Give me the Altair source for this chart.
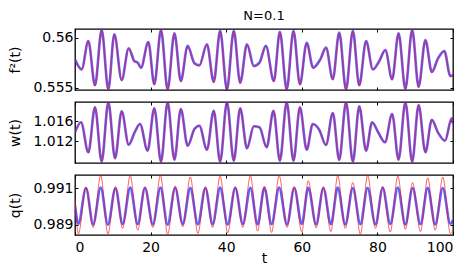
import altair as alt
import pandas as pd

# ---------------- data ----------------
F_T = [0, 1.76, 3.53, 5.29, 7.05, 8.82, 10.4, 12.35, 14.2, 15.7, 16.6, 17.46, 19.4, 20.98, 22.75,
       24.5, 26.3, 28.0, 29.8, 31.6, 32.9, 34.9, 36.7, 38.4, 40.2, 42.0, 43.7, 45.5, 47.3, 48.8,
       50.5, 52.6, 54.2, 56.0, 57.8, 59.5, 61.3, 63.0, 64.9, 66.4, 68.2, 69.9, 71.7, 73.5, 75.2,
       77.0, 78.8, 80.5, 82.1, 83.9, 85.6, 87.4, 89.2, 90.9, 92.7, 94.4, 96.0, 97.7, 99.3, 100]
F_BLUE = [0.55785, 0.55686, 0.55967, 0.55527, 0.56077, 0.55487, 0.56034, 0.55580, 0.55895, 0.55768,
          0.55752, 0.55702, 0.55957, 0.55537, 0.56077, 0.55487, 0.56044, 0.55570, 0.55918, 0.55746,
          0.55726, 0.55934, 0.55560, 0.56067, 0.55487, 0.56067, 0.55553, 0.55934, 0.55719, 0.55752,
          0.55918, 0.55570, 0.56057, 0.55487, 0.56067, 0.55537, 0.55950, 0.55702, 0.55785, 0.55901,
          0.55587, 0.56050, 0.55487, 0.56067, 0.55527, 0.55967, 0.55686, 0.55768, 0.55878, 0.55587,
          0.56044, 0.55493, 0.56077, 0.55513, 0.55977, 0.55659, 0.55791, 0.55868, 0.55619, 0.55629]
F_RED = [0.55780, 0.55678, 0.55963, 0.55520, 0.56073, 0.55480, 0.56030, 0.55572, 0.55890, 0.55760,
         0.55744, 0.55694, 0.55952, 0.55530, 0.56072, 0.55480, 0.56040, 0.55562, 0.55913, 0.55738,
         0.55718, 0.55930, 0.55552, 0.56063, 0.55480, 0.56063, 0.55545, 0.55930, 0.55711, 0.55744,
         0.55914, 0.55562, 0.56053, 0.55480, 0.56063, 0.55529, 0.55945, 0.55694, 0.55777, 0.55896,
         0.55579, 0.56046, 0.55480, 0.56063, 0.55520, 0.55962, 0.55678, 0.55760, 0.55872, 0.55579,
         0.56040, 0.55486, 0.56073, 0.55506, 0.55972, 0.55651, 0.55783, 0.55862, 0.55611, 0.55621]

W_T = [0, 1.59, 3.53, 5.29, 7.05, 8.82, 10.6, 12.35, 14.2, 15.9, 17.2, 19.2, 20.98, 22.75, 24.5,
       26.3, 28.0, 29.8, 31.6, 32.9, 34.9, 36.7, 38.4, 40.2, 42.0, 43.7, 45.5, 47.3, 48.8, 50.7,
       52.5, 54.2, 56.0, 57.8, 59.5, 61.3, 62.9, 64.6, 66.4, 68.2, 69.9, 71.7, 73.5, 75.2, 77.0,
       78.6, 80.2, 82.0, 83.9, 85.6, 87.4, 89.2, 90.9, 92.7, 94.4, 96.0, 97.9, 99.65, 100]
W_BLUE = [1.01378, 1.01578, 1.00978, 1.01878, 1.0079, 1.01978, 1.00858, 1.01798, 1.0113, 1.01398,
          1.01544, 1.0101, 1.01858, 1.0079, 1.01978, 1.0083, 1.01844, 1.0111, 1.01444, 1.0151,
          1.0103, 1.0181, 1.0079, 1.01978, 1.0081, 1.01858, 1.01058, 1.01498, 1.01478, 1.01078,
          1.0181, 1.0081, 1.01978, 1.0081, 1.01878, 1.0103, 1.01544, 1.0143, 1.01124, 1.01764,
          1.00824, 1.01978, 1.0079, 1.01898, 1.0101, 1.01578, 1.01378, 1.01178, 1.01744, 1.0083,
          1.01978, 1.0079, 1.01924, 1.00978, 1.0163, 1.01378, 1.0121, 1.01658, 1.0155]
W_RED = [1.01376, 1.01576, 1.00974, 1.01876, 1.0079, 1.01974, 1.00856, 1.01796, 1.0113, 1.01396,
         1.01542, 1.0101, 1.01856, 1.0079, 1.01974, 1.0083, 1.01842, 1.0111, 1.01442, 1.0151,
         1.0103, 1.0181, 1.0079, 1.01974, 1.0081, 1.01856, 1.01056, 1.01496, 1.01476, 1.01076,
         1.0181, 1.0081, 1.01974, 1.0081, 1.01876, 1.0103, 1.01542, 1.0143, 1.01122, 1.01762,
         1.00824, 1.01974, 1.0079, 1.01896, 1.0101, 1.01576, 1.01376, 1.01176, 1.01742, 1.0083,
         1.01974, 1.0079, 1.01922, 1.00976, 1.0163, 1.01376, 1.0121, 1.01656, 1.0155]

Q_T = [0, 0.9, 2.9, 4.8, 6.8, 8.7, 10.7, 12.6, 14.6, 16.6, 18.5, 20.6, 22.6, 24.5, 26.5, 28.5,
       30.5, 32.5, 34.5, 36.4, 38.4, 40.4, 42.4, 44.4, 46.4, 48.3, 50.1, 52.0, 54.0, 56.1, 58.0,
       60.0, 61.7, 63.8, 65.7, 67.7, 69.5, 71.5, 73.5, 75.5, 77.4, 79.5, 81.4, 83.4, 85.4, 87.4,
       89.3, 91.4, 93.3, 95.3, 97.3, 99.3, 100]
Q_BLUE = [0.99005, 0.98905, 0.99100, 0.98902, 0.99103, 0.98900, 0.99098, 0.98904, 0.99102, 0.98903,
          0.99100, 0.98902, 0.99103, 0.98900, 0.99100, 0.98904, 0.99101, 0.98902, 0.99099, 0.98903,
          0.99102, 0.98901, 0.99100, 0.98904, 0.99101, 0.98902, 0.99100, 0.98903, 0.99102, 0.98901,
          0.99100, 0.98904, 0.99101, 0.98902, 0.99099, 0.98903, 0.99102, 0.98901, 0.99100, 0.98903,
          0.99101, 0.98902, 0.99100, 0.98904, 0.99102, 0.98901, 0.99100, 0.98903, 0.99101, 0.98902,
          0.99100, 0.98905, 0.98925]
Q_RED = [0.99040, 0.98850, 0.99105, 0.98885, 0.99168, 0.98850, 0.99108, 0.98880, 0.99168, 0.98870,
         0.99108, 0.98885, 0.99168, 0.98848, 0.99112, 0.98888, 0.99160, 0.98852, 0.99108, 0.98885,
         0.99165, 0.98856, 0.99108, 0.98885, 0.99168, 0.98865, 0.99110, 0.98858, 0.99168, 0.98885,
         0.99108, 0.98860, 0.99140, 0.98882, 0.99108, 0.98862, 0.99168, 0.98880, 0.99130, 0.98848,
         0.99168, 0.98880, 0.99110, 0.98860, 0.99165, 0.98875, 0.99130, 0.98862, 0.99155, 0.98870,
         0.99160, 0.98852, 0.98870]

X_TICKS = [0, 20, 40, 60, 80, 100]
F_TICKS = [0.555, 0.56]
W_TICKS = [1.012, 1.016]
Q_TICKS = [0.989, 0.991]

F_DOMAIN = [0.5548, 0.56086]
W_DOMAIN = [1.00764, 1.01984]
Q_DOMAIN = [0.98844, 0.99171]

FONT = "DejaVu Sans"
PW, PH = 378, 61
TICK = 3


def panel(t, vb, vr, domain, ticks, ytitle, fmt, last, height):
    df_b = pd.DataFrame({"t": t, "v": vb})
    df_r = pd.DataFrame({"t": t, "v": vr})
    xs = alt.Scale(domain=[0, 100], nice=False, zero=False)
    ys = alt.Scale(domain=domain, nice=False, zero=False)

    xb_kw = dict(orient="bottom", values=X_TICKS, offset=-TICK, tickSize=TICK, domain=False,
                 grid=False, labels=last, labelPadding=5, format="d")
    if last:
        xb_kw["title"] = "t"
        xb_kw["titlePadding"] = -3
    else:
        xb_kw["title"] = None
    yl_kw = dict(orient="left", values=ticks, offset=-TICK, tickSize=TICK, domain=False,
                 grid=False, labelPadding=2, format=fmt, title=ytitle, titlePadding=10)

    blue = alt.Chart(df_b).mark_line(color="#2b2bff", strokeWidth=2.6, opacity=0.75,
                                     interpolate="monotone", clip=True).encode(
        x=alt.X("t:Q", scale=xs, axis=alt.Axis(**xb_kw)),
        y=alt.Y("v:Q", scale=ys, axis=alt.Axis(**yl_kw)),
    )
    red = alt.Chart(df_r).mark_line(color="#ff1010", strokeWidth=1.0, opacity=0.65,
                                    interpolate="monotone", clip=True).encode(
        x=alt.X("t:Q", scale=xs, axis=alt.Axis(orient="top", values=X_TICKS, offset=-TICK,
                                               tickSize=TICK, domain=False, grid=False,
                                               labels=False, title=None)),
        y=alt.Y("v:Q", scale=ys, axis=alt.Axis(orient="right", values=ticks, offset=-TICK,
                                               tickSize=TICK, domain=False, grid=False,
                                               labels=False, title=None)),
    )
    return alt.layer(blue, red).resolve_axis(x="independent", y="independent").properties(
        width=PW, height=height)


p1 = panel(F_T, F_BLUE, F_RED, F_DOMAIN, F_TICKS, "f²(t)", ".3~f", False, PH).properties(
    title=alt.TitleParams("N=0.1", font=FONT, fontSize=13, fontWeight="normal",
                          anchor="middle", frame="group", offset=6, color="black"))
p2 = panel(W_T, W_BLUE, W_RED, W_DOMAIN, W_TICKS, "w(t)", ".3f", False, PH)
p3 = panel(Q_T, Q_BLUE, Q_RED, Q_DOMAIN, Q_TICKS, "q(t)", ".3f", True, 60)

chart = alt.vconcat(p1, p2, p3, spacing=12, bounds="flush").properties(
    padding=0, background="white"
).configure_view(
    stroke="black", strokeWidth=1.3
).configure_axis(
    labelFont=FONT, titleFont=FONT, labelFontSize=14, titleFontSize=14,
    labelColor="black", titleColor="black", tickColor="black", tickWidth=1,
    titleFontWeight="normal"
)

chart.save("out.html", embed_options={"renderer": "svg", "actions": False})
